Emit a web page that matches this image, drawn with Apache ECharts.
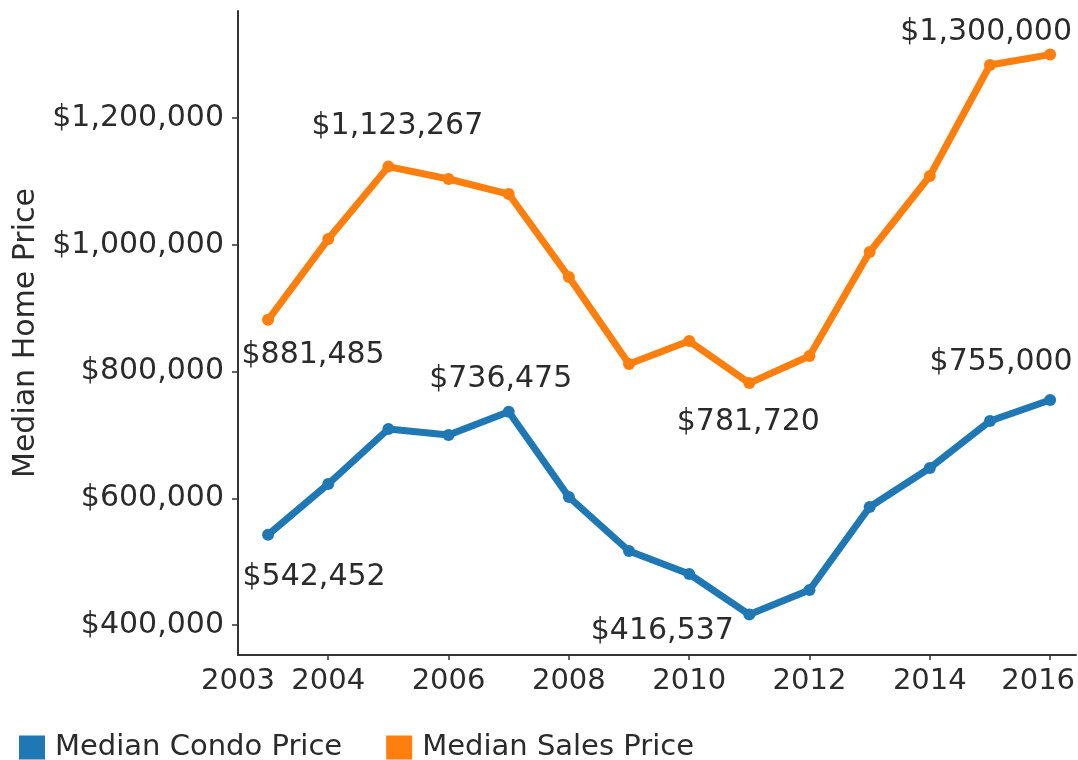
<!DOCTYPE html>
<html>
<head>
<meta charset="utf-8">
<title>Median Home Price</title>
<script src="https://cdn.jsdelivr.net/npm/echarts@6/dist/echarts.min.js"></script>
<style>
  html, body { margin: 0; padding: 0; background: #fff; }
  #chart { width: 1078px; height: 760px; }
</style>
</head>
<body>
<div id="chart"></div>
<script>
// data
var years = [2003, 2004, 2005, 2006, 2007, 2008, 2009, 2010, 2011, 2012, 2013, 2014, 2015, 2016]
var condoPrice = [542452, 622500, 709300, 699800, 736475, 602000, 516800, 480500, 416537, 455200, 586200, 647700, 721900, 755000]
var salesPrice = [881485, 1009000, 1123267, 1103700, 1080000, 949100, 811800, 848100, 781720, 824500, 988600, 1108500, 1283600, 1300000]
var xTickValues = [2004, 2006, 2008, 2010, 2012, 2014, 2016]
var xLabelValues = [2002.5, 2004, 2006, 2008, 2010, 2012, 2014, 2016]
var xLabelTexts = ['2003', '2004', '2006', '2008', '2010', '2012', '2014', '2016']
var yTickValues = [400000, 600000, 800000, 1000000, 1200000]

// where the value labels sit, as pixel offsets from the point (index -> [dx, dy])
var condoLabelSpots = { 0: [46, 42], 4: [-8, -33], 8: [-87, 17], 13: [-49, -38] }
var salesLabelSpots = { 0: [45, 35], 2: [9, -40], 8: [-1, 39], 13: [-64, -22] }

var FONT = 'DejaVu Sans, Verdana, sans-serif'
var TEXT = '#2b2b2b'

function money(v) {
  return '$' + Math.round(v).toLocaleString('en-US')
}

function buildData(values, spots) {
  return years.map(function (y, i) {
    var item = { value: [y, values[i]] }
    if (spots[i]) {
      item.label = {
        show: true,
        position: 'inside',
        offset: spots[i],
        formatter: function (p) { return money(p.value[1]) }
      }
    }
    return item
  })
}

function lineSeries(name, color, values, spots) {
  return {
    name: name,
    type: 'line',
    symbol: 'circle',
    symbolSize: 12,
    lineStyle: { width: 7, color: color },
    itemStyle: { color: color },
    label: { show: false, color: TEXT, fontSize: 30, fontFamily: FONT },
    data: buildData(values, spots)
  }
}

var chart = echarts.init(document.getElementById('chart'))

var option = {
  backgroundColor: '#fff',
  animation: false,
  textStyle: { fontFamily: FONT },
  legend: {
    left: 14,
    top: 728,
    icon: 'rect',
    itemWidth: 26,
    itemHeight: 24,
    itemGap: 44,
    selectedMode: false,
    textStyle: { fontSize: 29, color: TEXT, fontFamily: FONT, padding: [0, 0, 0, 5] },
    data: ['Median Condo Price', 'Median Sales Price']
  },
  grid: {
    left: 238,
    right: 2,
    top: 11,
    bottom: 105,
    outerBoundsMode: 'none'
  },
  xAxis: {
    type: 'value',
    min: 2002.5,
    max: 2016.43,
    splitLine: { show: false },
    axisLine: { lineStyle: { color: '#333', width: 2 } },
    axisTick: {
      show: true,
      length: 5,
      lineStyle: { color: '#333', width: 1.5 },
      customValues: xTickValues
    },
    axisLabel: {
      color: TEXT,
      fontSize: 29,
      fontFamily: FONT,
      margin: 12,
      customValues: xLabelValues,
      formatter: function (v) {
        var i = xLabelValues.indexOf(v)
        // the last label is pulled in so it stays inside the frame
        if (i === xLabelValues.length - 1) return '{last|' + xLabelTexts[i] + '}'
        return xLabelTexts[i]
      },
      rich: {
        last: { fontSize: 29, fontFamily: FONT, color: TEXT, padding: [0, 24, 0, 0] }
      }
    }
  },
  yAxis: {
    type: 'value',
    min: 352700,
    max: 1368800,
    name: 'Median Home Price',
    nameLocation: 'middle',
    nameGap: 196,
    nameTextStyle: { color: TEXT, fontSize: 30, fontFamily: FONT },
    splitLine: { show: false },
    axisLine: { show: true, lineStyle: { color: '#333', width: 2 } },
    axisTick: {
      show: true,
      length: 6,
      lineStyle: { color: '#333', width: 1.5 },
      customValues: yTickValues
    },
    axisLabel: {
      color: TEXT,
      fontSize: 30,
      fontFamily: FONT,
      margin: 14,
      customValues: yTickValues,
      formatter: money
    }
  },
  series: [
    lineSeries('Median Condo Price', '#1f77b4', condoPrice, condoLabelSpots),
    lineSeries('Median Sales Price', '#ff7f0e', salesPrice, salesLabelSpots)
  ]
}

chart.setOption(option)
</script>
</body>
</html>
